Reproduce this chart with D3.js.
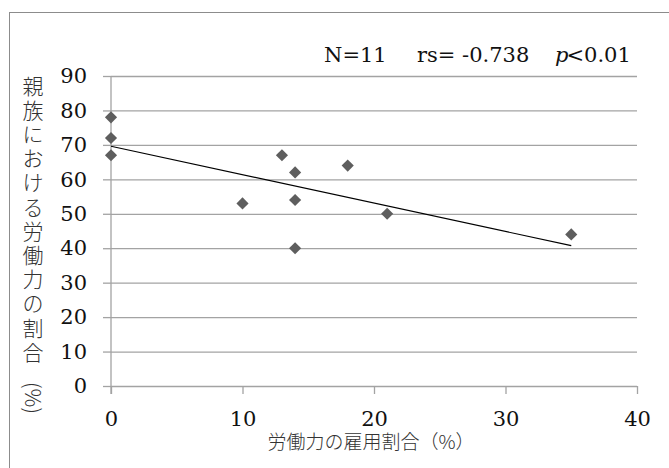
<!DOCTYPE html>
<html lang="ja">
<head>
<meta charset="UTF-8">
<title>労働力の雇用割合</title>
<script src="https://d3js.org/d3.v7.min.js"></script>
<style>
    body {
        margin: 0;
        padding: 0;
        background-color: #fff;
    }

    svg {
        display: block;
    }

    .tick text {
        font-family: "DejaVu Serif", serif;
        font-size: 21px;
        fill: #111;
    }

    .cjk {
        font-family: "Noto Sans CJK JP", sans-serif;
        font-weight: 300;
        fill: #333;
    }
</style>
</head>
<body>
<svg id="chart" width="669" height="468"></svg>

<script>
    // data
    var xValues = [0, 0, 0, 10, 13, 14, 14, 14, 18, 21, 35];
    var yValues = [78, 72, 67, 53, 67, 62, 54, 40, 64, 50, 44];
    var xTicks = [0, 10, 20, 30, 40];
    var yTicks = [0, 10, 20, 30, 40, 50, 60, 70, 80, 90];
    var yLabelChars = ["親", "族", "に", "お", "け", "る", "労", "働", "力", "の", "割", "合"];
    var xLabel = "労働力の雇用割合（%）";

    var svg = d3.select("#chart");

    var plotLeft = 111, plotTop = 76, plotW = 526, plotH = 310;

    // outer frame (runs past the right and bottom edges)
    svg.append("rect")
        .attr("x", 9.5)
        .attr("y", 12.5)
        .attr("width", 700)
        .attr("height", 500)
        .attr("fill", "#fff")
        .attr("stroke", "#8c8c8c")
        .attr("stroke-width", 1);

    var g = svg.append("g").attr("transform", "translate(" + plotLeft + "," + plotTop + ")");

    var x = d3.scaleLinear().domain([0, 40]).range([0, plotW]);
    var y = d3.scaleLinear().domain([0, 90]).range([plotH, 0]);

    function greyLines(s) {
        s.select(".domain").remove();
        s.selectAll("line").attr("stroke", "#a3a3a3").attr("stroke-width", 1.3);
    }

    // gridlines
    g.append("g")
        .call(d3.axisLeft(y).tickValues(yTicks).tickSize(-plotW).tickFormat(""))
        .call(greyLines);

    // y axis labels and outer ticks
    g.append("g")
        .call(d3.axisLeft(y).tickValues(yTicks).tickSize(8).tickPadding(16))
        .call(greyLines);

    // y axis line
    g.append("line")
        .attr("x1", x(0)).attr("x2", x(0))
        .attr("y1", y(90)).attr("y2", y(0) + 8)
        .attr("stroke", "#a3a3a3")
        .attr("stroke-width", 1.3);

    // x axis
    g.append("g")
        .attr("transform", "translate(0," + plotH + ")")
        .call(d3.axisBottom(x).tickValues(xTicks).tickSize(8).tickPadding(17))
        .call(greyLines);

    // trend line (least squares)
    var mx = d3.mean(xValues), my = d3.mean(yValues);
    var sxy = d3.sum(xValues, function (d, i) { return (d - mx) * (yValues[i] - my); });
    var sxx = d3.sum(xValues, function (d) { return (d - mx) * (d - mx); });
    var slope = sxy / sxx;
    var intercept = my - slope * mx;
    var xExt = d3.extent(xValues);

    g.append("line")
        .attr("x1", x(xExt[0])).attr("y1", y(intercept + slope * xExt[0]))
        .attr("x2", x(xExt[1])).attr("y2", y(intercept + slope * xExt[1]))
        .attr("stroke", "#000")
        .attr("stroke-width", 1.2);

    // points
    var diamond = d3.symbol().type(d3.symbolSquare).size(74);
    g.selectAll(".pt")
        .data(xValues)
        .enter().append("path")
        .attr("class", "pt")
        .attr("d", diamond)
        .attr("transform", function (d, i) {
            return "translate(" + x(d) + "," + y(yValues[i]) + ") rotate(45)";
        })
        .attr("fill", "#5e5e5e");

    // stats text
    var stats = svg.append("text")
        .attr("y", 61.5)
        .attr("font-family", "DejaVu Serif, serif")
        .attr("font-size", 21)
        .attr("fill", "#111");
    stats.append("tspan").attr("x", 324).text("N=11");
    stats.append("tspan").attr("x", 417).text("rs= -0.738");
    stats.append("tspan").attr("x", 555).attr("font-style", "italic").text("p");
    stats.append("tspan").attr("dx", -2).text("<0.01");

    // y axis title, vertical
    svg.append("g").selectAll("text")
        .data(yLabelChars)
        .enter().append("text")
        .attr("class", "cjk")
        .attr("x", 33)
        .attr("y", function (d, i) { return 86 + i * 24.2; })
        .attr("dy", "0.36em")
        .attr("text-anchor", "middle")
        .attr("font-size", 21)
        .text(function (d) { return d; });

    svg.append("text")
        .attr("class", "cjk")
        .attr("transform", "translate(33,398) rotate(90)")
        .attr("dy", "0.36em")
        .attr("text-anchor", "middle")
        .attr("font-size", 21)
        .text("(%)");

    // x axis title
    svg.append("text")
        .attr("class", "cjk")
        .attr("x", 371)
        .attr("y", 449)
        .attr("text-anchor", "middle")
        .attr("font-size", 19)
        .text(xLabel);
</script>
</body>
</html>
